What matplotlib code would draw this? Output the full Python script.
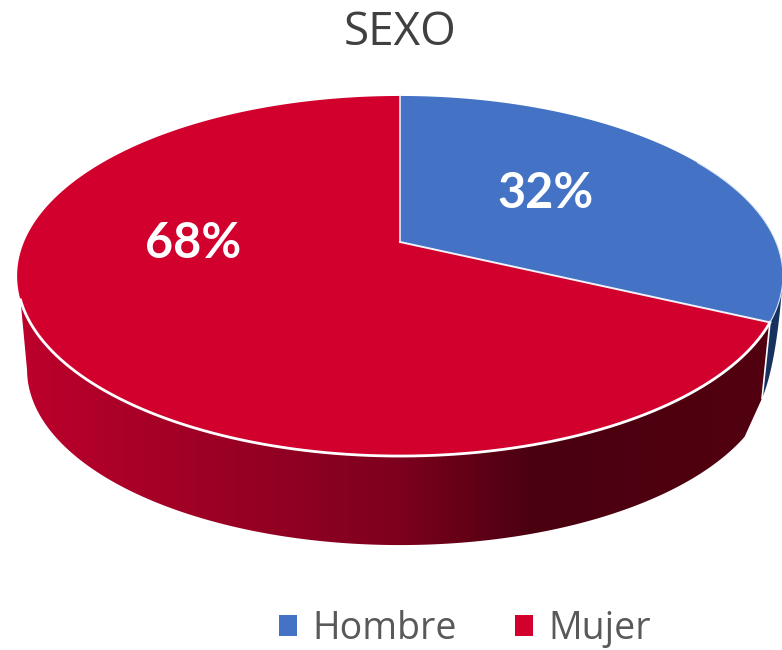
"""Pie 3D "SEXO": top face and wall built from the shares with a perspective mapping."""

import numpy as np
import matplotlib
matplotlib.use("Agg")
import matplotlib.pyplot as plt
from matplotlib.colors import LinearSegmentedColormap
from matplotlib.patches import Patch, Polygon

labels = ["Hombre", "Mujer"]
shares = [32, 68]
colors = ["#4472C4", "#D2002D"]
title = "SEXO"

# perspective of the pie in pixels
CX, APEX_Y, K, A, C = 400.0, 242.0, 376.0, -127.9, 0.1889
WALL_SCALE, WALL_CY, TOP_CY = 0.974, 369.7, 276.0


def rim(theta_deg):
    """Point of the top rim, theta clockwise from 12 o'clock."""
    t = np.radians(theta_deg)
    den = C * np.cos(t) + 1
    return CX + K * np.sin(t) / den, (A * np.cos(t) + APEX_Y) / den


def rim_low(theta_deg):
    x, y = rim(theta_deg)
    return CX + (x - CX) * WALL_SCALE, WALL_CY + (y - TOP_CY) * WALL_SCALE


def arc(func, a, b):
    x, y = func(np.linspace(a, b, 200))
    return np.column_stack([x, y])


fig = plt.figure(figsize=(7.82, 6.5), dpi=100)
ax = fig.add_axes([0, 0, 1, 1])

split = 360 * shares[0] / sum(shares)

# --- walls ---
top_pt = np.array(rim(split))
low_pt = np.array(rim_low(split))
corner = top_pt + (low_pt - top_pt) * 0.82

# right edge of the blue sliver bows outwards
p0 = np.array(rim(101))
ctrl = np.array([p0[0] - 6, corner[1] - 35])
t = np.linspace(0, 1, 40)[:, None]
bow = (1 - t) ** 2 * p0 + 2 * t * (1 - t) * ctrl + t ** 2 * corner

blue_wall = np.vstack([arc(rim, 101, split), bow[::-1]])
ax.add_patch(Polygon(blue_wall, fc="#17325F", ec="none", zorder=1))

red_wall = np.vstack([arc(rim, split, 251.7), arc(rim_low, 259, split + 7), [corner]])
wall_cmap = LinearSegmentedColormap.from_list(
    "wall", [(0, "#BC002C"), (0.5, "#7E001E"), (0.68, "#4A0010"), (1, "#52000F")]
)
grad = np.linspace(0, 1, 256).reshape(1, -1)
img = ax.imshow(grad, cmap=wall_cmap, extent=(20, 775, 560, 290), aspect="auto", zorder=2)
clip = Polygon(red_wall, transform=ax.transData, fc="none", ec="none")
ax.add_patch(clip)
img.set_clip_path(clip)

# white line between the two walls
ax.plot([top_pt[0], corner[0]], [top_pt[1], corner[1]], color="white", lw=1.2, zorder=3)

# --- top face ---
start = 0.0
apex = (CX, APEX_Y)
for share, color in zip(shares, colors):
    end = start + 360 * share / sum(shares)
    face = np.vstack([[apex], arc(rim, start, end)])
    ax.add_patch(Polygon(face, fc=color, ec="none", zorder=4))
    start = end

ax.plot(*arc(rim, split, 251.7).T, color="white", lw=2, zorder=5)
ax.plot(*arc(rim, 60, split).T, color="#DCE6F5", lw=0.8, zorder=5)
ax.plot([CX, CX], [APEX_Y, rim(0)[1]], color="#E4EAF6", lw=1.2, zorder=5)
ax.plot([CX, top_pt[0]], [APEX_Y, top_pt[1]], color="#F2F2F8", lw=1.4, zorder=5)

# --- labels ---
ax.text(546, 193, f"{shares[0]}%", color="white", fontsize=35, fontweight="bold",
        family="Lato", ha="center", va="center", zorder=6)
ax.text(193, 243, f"{shares[1]}%", color="white", fontsize=35, fontweight="bold",
        family="Lato", ha="center", va="center", zorder=6)
ax.text(400, 33, title, color="#404040", fontsize=33, family="Open Sans",
        ha="center", va="center")

handles = [Patch(fc=c, ec="none") for c in colors]
ax.legend(handles, labels, loc="center", bbox_to_anchor=(465, 629), bbox_transform=ax.transData,
          ncol=2, frameon=False, handlelength=0.48, handleheight=0.48, handletextpad=0.4,
          columnspacing=1.55, borderpad=0, borderaxespad=0,
          labelcolor="#595959", prop={"family": "Open Sans", "size": 27})

ax.set_xlim(0, 782)
ax.set_ylim(650, 0)
ax.axis("off")

plt.savefig("out.png", dpi=100)
plt.close()
